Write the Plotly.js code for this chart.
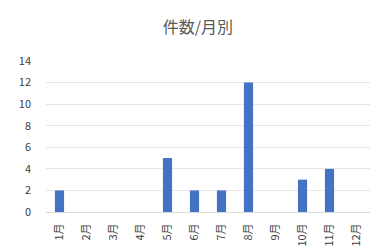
<!DOCTYPE html>
<html><head><meta charset="utf-8">
<script src="https://cdn.plot.ly/plotly-3.0.1.min.js"></script>
<style>html,body{margin:0;padding:0;background:#fff;}#c{width:382px;height:250px;}</style>
</head><body><div id="c"></div>
<script>
const months = ["1月","2月","3月","4月","5月","6月","7月","8月","9月","10月","11月","12月"];
const counts = [2,0,0,0,5,2,2,12,0,3,4,0];
const yTicks = [0,2,4,6,8,10,12,14];

Plotly.newPlot("c", [{
  type: "bar", x: months, y: counts,
  marker: {color: "#4472C4"}, hoverinfo: "none"
}], {
  width: 382, height: 250,
  margin: {l: 46, r: 12, t: 61, b: 38},
  paper_bgcolor: "#ffffff", plot_bgcolor: "#ffffff",
  bargap: 0.66,
  title: {text: "件数/月別", x: 0.518, xanchor: "center", y: 0.89, yanchor: "middle",
          font: {family: "Noto Sans CJK JP", size: 16, color: "#595959"}},
  font: {family: "Noto Sans CJK JP", color: "#595959", size: 11},
  xaxis: {tickangle: -90, tickfont: {size: 11, color: "#404040"}, showline: true,
          linecolor: "#d9d9d9", ticks: "", showgrid: false, ticklabelstandoff: 6},
  yaxis: {range: [0, 14], tickvals: yTicks, showgrid: true, gridcolor: "#e6e6e6",
          zeroline: false, ticks: "", ticklabelstandoff: 14,
          tickfont: {size: 11, color: "#404040"}},
  showlegend: false
}, {staticPlot: true});
</script></body></html>
